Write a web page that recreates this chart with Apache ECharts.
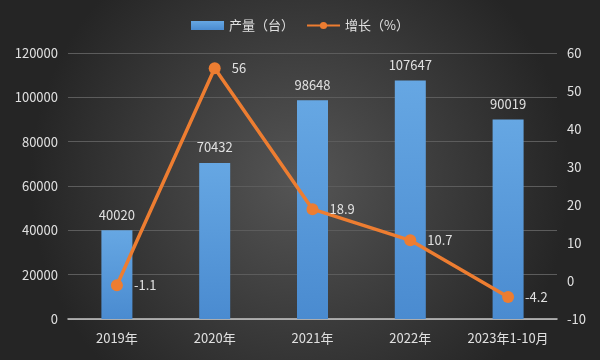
<!DOCTYPE html>
<html><head><meta charset="utf-8">
<script src="https://cdn.jsdelivr.net/npm/echarts@6/dist/echarts.min.js"></script>
<style>html,body{margin:0;padding:0;}#c{width:600px;height:360px;}</style>
</head><body><div id="c"></div>
<script>
const categories = ['2019年','2020年','2021年','2022年','2023年1-10月'];
const output = [40020, 70432, 98648, 107647, 90019];
const growth = [-1.1, 56, 18.9, 10.7, -4.2];
const font = '"Microsoft YaHei","Noto Sans CJK SC",sans-serif';
const chart = echarts.init(document.getElementById('c'));
chart.setOption({
  backgroundColor: {type:'radial', x:0.5, y:0.5, r:0.75, colorStops:[{offset:0,color:'#555555'},{offset:1,color:'#252525'}]},
  textStyle:{fontFamily:font},
  legend:{top:14, left:'center', itemGap:12, itemWidth:33, itemHeight:9,
    textStyle:{color:'#e0e0e0', fontSize:13, fontFamily:font},
    data:[{name:'产量（台）', icon:'rect'},{name:'增长（%）'}]},
  grid:{left:68, right:43, top:53, bottom:41},
  xAxis:{type:'category', data:categories,
    axisLine:{lineStyle:{color:'#c8c8c8', width:1.5}}, axisTick:{show:false},
    axisLabel:{color:'#e0e0e0', fontSize:13, margin:13, interval:0}},
  yAxis:[{type:'value', min:0, max:120000, interval:20000,
      axisLabel:{color:'#e0e0e0', fontSize:13, margin:10, formatter:v=>String(v)},
      splitLine:{lineStyle:{color:'#5c5c5c'}}, axisLine:{show:false}},
    {type:'value', min:-10, max:60, interval:10,
      axisLabel:{color:'#e0e0e0', fontSize:13, margin:10},
      splitLine:{show:false}, axisLine:{show:false}}],
  series:[{name:'产量（台）', type:'bar', data:output, barWidth:31,
      itemStyle:{color:{type:'linear',x:0,y:0,x2:0,y2:1,colorStops:[{offset:0,color:'#66a7e3'},{offset:1,color:'#4a8bd0'}]}},
      label:{show:true, position:'top', distance:9, color:'#e0e0e0', fontSize:13}},
    {name:'增长（%）', type:'line', yAxisIndex:1, data:growth, symbol:'circle', symbolSize:12,
      lineStyle:{color:'#ed7d31', width:3.5}, itemStyle:{color:'#ed7d31'},
      label:{show:true, position:'right', distance:11, color:'#e0e0e0', fontSize:13}}]
});
</script></body></html>
